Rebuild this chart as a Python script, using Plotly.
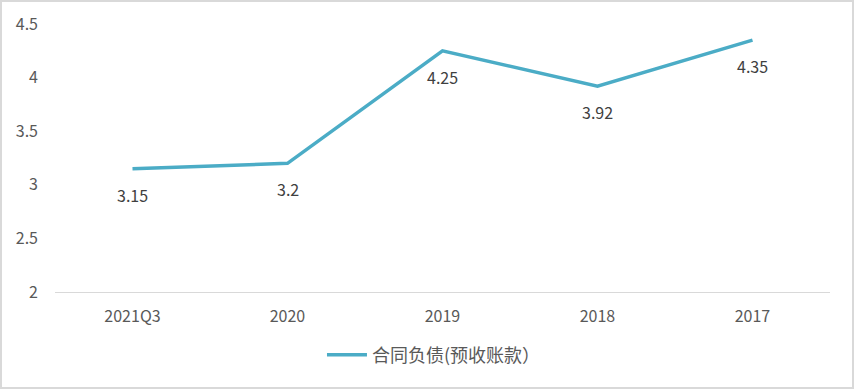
import plotly.graph_objects as go

# 数据
categories = ['2021Q3', '2020', '2019', '2018', '2017']
values = [3.15, 3.2, 4.25, 3.92, 4.35]
value_labels = ['3.15', '3.2', '4.25', '3.92', '4.35']
series_name = '合同负债(预收账款）'

W, H = 854, 389
ml, mr, mt, mb = 55, 24, 24, 97
pw, ph = W - ml - mr, H - mt - mb

fig = go.Figure()
fig.add_trace(go.Scatter(
    x=categories,
    y=values,
    mode='lines',
    name=series_name,
    line=dict(color='#4bacc6', width=3.5),
))

# 数据标签（点下方），分类轴上用序号定位
for i, (v, t) in enumerate(zip(values, value_labels)):
    fig.add_annotation(x=i, y=v, text=t, showarrow=False, yshift=-26,
                       font=dict(size=16, color='#404040'))

# 外框
fig.add_shape(type='rect', xref='paper', yref='paper',
              x0=(-ml + 1) / pw, x1=1 + (mr - 1) / pw,
              y0=(-mb + 1) / ph, y1=1 + (mt - 1) / ph,
              line=dict(color='#d9d9d9', width=2))

fig.update_layout(
    width=W, height=H,
    margin=dict(l=ml, r=mr, t=mt, b=mb),
    paper_bgcolor='white', plot_bgcolor='white',
    font=dict(family='Noto Sans CJK SC, sans-serif', size=16, color='#595959'),
    showlegend=True,
    legend=dict(orientation='h', x=0.489, xanchor='center', y=-0.235, yanchor='middle',
                font=dict(size=18, color='#595959'), itemwidth=40),
    xaxis=dict(type='category', range=[-0.5, 4.5], showgrid=False, showline=True,
               linecolor='#d9d9d9', linewidth=1,
               ticks='', ticklabelstandoff=10, zeroline=False),
    yaxis=dict(range=[2, 4.5], dtick=0.5, showgrid=False, showline=False,
               zeroline=False, ticks='', ticklabelstandoff=16),
)

fig.write_html("out.html", config={'displayModeBar': False},
               post_script="document.body.style.margin='0';")
